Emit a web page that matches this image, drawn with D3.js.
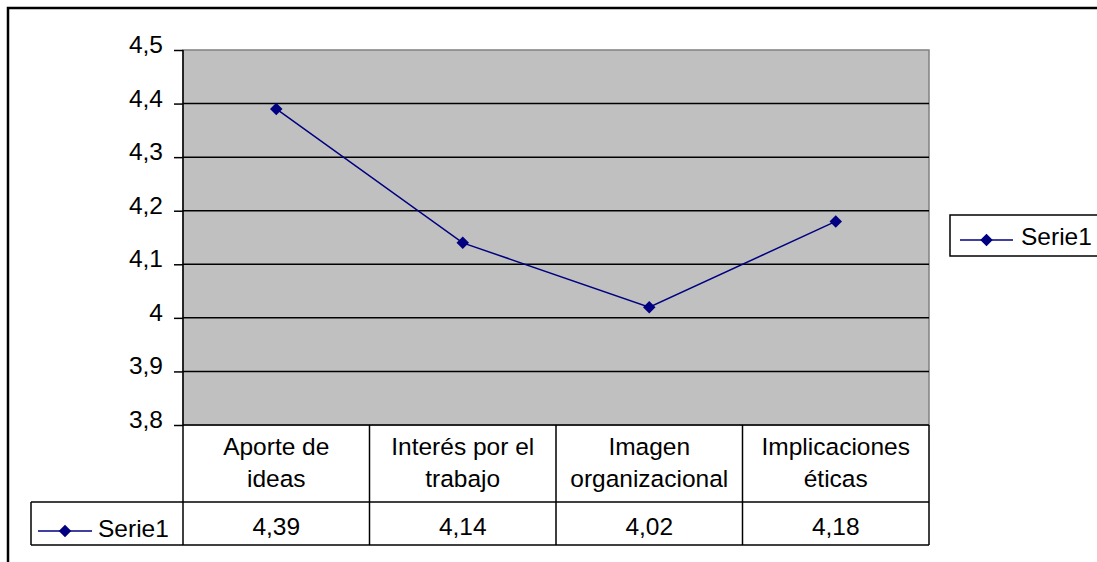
<!DOCTYPE html>
<html>
<head>
<meta charset="utf-8">
<script src="https://cdn.jsdelivr.net/npm/d3@7"></script>
<style>
  body { margin: 0; background: #fff; }
  svg { font-family: "Liberation Sans", Arial, sans-serif; }
</style>
</head>
<body>
<div id="chart"></div>
<script>
// chart data
const categories = [["Aporte de", "ideas"], ["Interés por el", "trabajo"], ["Imagen", "organizacional"], ["Implicaciones", "éticas"]]
const seriesName = "Serie1"
const values = [4.39, 4.14, 4.02, 4.18]
const valueLabels = ["4,39", "4,14", "4,02", "4,18"]
const yTicks = [3.8, 3.9, 4.0, 4.1, 4.2, 4.3, 4.4, 4.5]

const width = 1097, height = 562
const plot = { left: 183, top: 50, right: 929, bottom: 425 }
const headerBottom = 502, tableBottom = 545, legendCellLeft = 31
const navy = "#000080"
const fs = 24.5

const svg = d3.select("#chart").append("svg")
  .attr("width", width).attr("height", height)

// outer frame (runs off the right and bottom edges)
svg.append("rect")
  .attr("x", 8).attr("y", 8).attr("width", width + 20).attr("height", height + 20)
  .attr("fill", "none").attr("stroke", "#000").attr("stroke-width", 2.5)

const x = d3.scaleBand().domain(d3.range(categories.length)).range([plot.left, plot.right])
const y = d3.scaleLinear().domain([3.8, 4.5]).range([plot.bottom, plot.top])

// plot area
svg.append("rect")
  .attr("x", plot.left).attr("y", plot.top)
  .attr("width", plot.right - plot.left).attr("height", plot.bottom - plot.top)
  .attr("fill", "#c0c0c0").attr("stroke", "#808080").attr("stroke-width", 1.5)

// gridlines
svg.append("g").selectAll("line")
  .data(yTicks.slice(1, -1))
  .join("line")
  .attr("x1", plot.left).attr("x2", plot.right)
  .attr("y1", d => y(d)).attr("y2", d => y(d))
  .attr("stroke", "#000").attr("stroke-width", 1.5)

// y axis
const yAxis = svg.append("g")
  .attr("transform", `translate(${plot.left},0)`)
  .call(d3.axisLeft(y).tickValues(yTicks).tickSize(9).tickPadding(11)
    .tickFormat(d => d3.format(".1~f")(d).replace(".", ",")))
yAxis.select(".domain").attr("stroke", "#000").attr("stroke-width", 1.5).attr("d", `M0,${plot.top}V${plot.bottom}`)
yAxis.selectAll(".tick line").attr("stroke", "#000").attr("stroke-width", 1.5)
yAxis.selectAll(".tick text").attr("font-size", fs).attr("fill", "#000")
  .attr("font-family", "Liberation Sans, Arial, sans-serif").attr("dy", "0.1em")

// data table
const table = svg.append("g").attr("stroke", "#000").attr("stroke-width", 1.5)
table.append("line").attr("x1", plot.left).attr("x2", plot.left).attr("y1", plot.bottom).attr("y2", tableBottom)
table.append("line").attr("x1", plot.right).attr("x2", plot.right).attr("y1", plot.bottom).attr("y2", tableBottom)
table.append("line").attr("x1", plot.left).attr("x2", plot.right).attr("y1", plot.bottom).attr("y2", plot.bottom)
table.append("line").attr("x1", legendCellLeft).attr("x2", plot.right).attr("y1", headerBottom).attr("y2", headerBottom)
table.append("line").attr("x1", legendCellLeft).attr("x2", plot.right).attr("y1", tableBottom).attr("y2", tableBottom)
table.append("line").attr("x1", legendCellLeft).attr("x2", legendCellLeft).attr("y1", headerBottom).attr("y2", tableBottom)
table.selectAll(".div")
  .data(d3.range(1, categories.length))
  .join("line")
  .attr("x1", d => x(d)).attr("x2", d => x(d))
  .attr("y1", plot.bottom).attr("y2", tableBottom)

// category labels
const catText = svg.append("g").selectAll("text")
  .data(categories)
  .join("text")
  .attr("text-anchor", "middle").attr("font-size", fs).attr("fill", "#000")
catText.selectAll("tspan")
  .data((d, i) => d.map(t => ({ t, i })))
  .join("tspan")
  .attr("x", d => x(d.i) + x.bandwidth() / 2)
  .attr("y", (d, j) => 455 + j * 32)
  .text(d => d.t)

// value row
svg.append("g").selectAll("text")
  .data(valueLabels)
  .join("text")
  .attr("x", (d, i) => x(i) + x.bandwidth() / 2)
  .attr("y", 535)
  .attr("text-anchor", "middle").attr("font-size", fs).attr("fill", "#000")
  .text(d => d)

const diamond = d3.symbol().type(d3.symbolDiamond2).size(100)

function legendKey(g, x0, x1, cy) {
  g.append("line").attr("x1", x0).attr("x2", x1).attr("y1", cy).attr("y2", cy)
    .attr("stroke", navy).attr("stroke-width", 1.5)
  g.append("path").attr("d", diamond).attr("transform", `translate(${(x0 + x1) / 2},${cy})`).attr("fill", navy)
}

// table legend cell
const tl = svg.append("g")
legendKey(tl, 38, 92, 531)
tl.append("text").attr("x", 98).attr("y", 537).attr("font-size", fs).attr("fill", "#000").text(seriesName)

// series line
const cx = i => x(i) + x.bandwidth() / 2
svg.append("path")
  .datum(values)
  .attr("fill", "none").attr("stroke", navy).attr("stroke-width", 1.5)
  .attr("d", d3.line().x((d, i) => cx(i)).y(d => y(d)))
svg.append("g").selectAll("path")
  .data(values)
  .join("path")
  .attr("d", diamond)
  .attr("transform", (d, i) => `translate(${cx(i)},${y(d)})`)
  .attr("fill", navy)

// legend on the right
const lg = svg.append("g")
lg.append("rect").attr("x", 950).attr("y", 215).attr("width", 200).attr("height", 41)
  .attr("fill", "#fff").attr("stroke", "#000").attr("stroke-width", 1.5)
legendKey(lg, 960, 1013, 240)
lg.append("text").attr("x", 1021).attr("y", 245).attr("font-size", fs).attr("fill", "#000").text(seriesName)
</script>
</body>
</html>
